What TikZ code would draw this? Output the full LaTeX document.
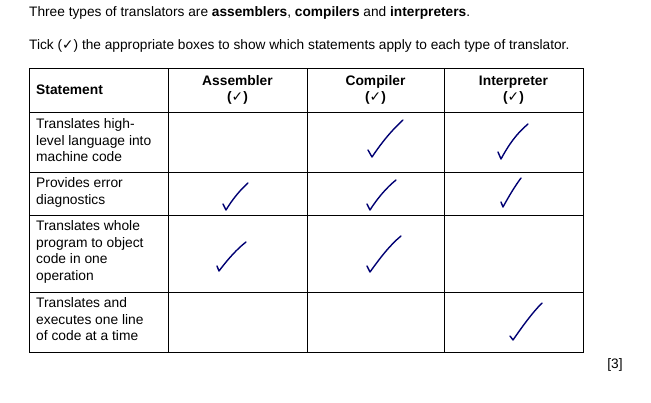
\documentclass[tikz,border=0pt]{standalone}
\usepackage{fontspec}
\setmainfont{Liberation Sans}
\newfontfamily\dv{DejaVu Sans}
\begin{document}
\begin{tikzpicture}[x=1pt,y=-1pt,
  txt/.style={anchor=north west,align=left,inner sep=0pt,font=\fontsize{13.8}{16.8}\selectfont},
  hd/.style={align=center,inner sep=0pt,font=\bfseries\fontsize{13.8}{16}\selectfont},
  tick/.style={draw=blue!45!black,line width=1.4pt,line cap=round,line join=round}]
\useasboundingbox (0,0) rectangle (651,402);
\node[anchor=west,inner sep=0pt,font=\fontsize{13.7}{14}\selectfont] (t1) at (29,13) {Three types of translators are \textbf{assemblers}, \textbf{compilers} and \textbf{interpreters}.};
\node[anchor=west,inner sep=0pt,font=\fontsize{13.7}{14}\selectfont] (t2) at (29,46) {Tick ({\dv\bfseries ✓}) the appropriate boxes to show which statements apply to each type of translator.};
\draw[line width=0.8pt] (29,68) rectangle (583,352);
\foreach \x in {168,307,444} \draw[line width=0.8pt] (\x,68) -- (\x,352);
\foreach \y in {112,172,215,292} \draw[line width=0.8pt] (29,\y) -- (583,\y);
\node[anchor=west,hd] (h0) at (36,90) {Statement};
\node[hd] (h1) at (237.5,90) {Assembler\\({\dv\bfseries ✓})};
\node[hd] (h2) at (375.5,90) {Compiler\\({\dv\bfseries ✓})};
\node[hd] (h3) at (513.5,90) {Interpreter\\({\dv\bfseries ✓})};
\node[txt] (r1) at (36,118) {Translates high-\\level language into\\machine code};
\node[txt] (r2) at (36,177) {Provides error\\diagnostics};
\node[txt] (r3) at (36,220) {Translates whole\\program to object\\code in one\\operation};
\node[txt] (r4) at (36,297) {Translates and\\executes one line\\of code at a time};
\draw[tick] (368,150) -- (372,157) .. controls (382,142) and (392,130) .. (403,120);
\draw[tick] (498,152) -- (501,159) .. controls (508,146) and (516,134) .. (528,124);
\draw[tick] (223,204) -- (226,210) .. controls (232,200) and (240,190) .. (248,183);
\draw[tick] (367,204) -- (370,210) .. controls (377,199) and (386,188) .. (396,180);
\draw[tick] (501,202) -- (503,207) .. controls (509,196) and (515,186) .. (521,178);
\draw[tick] (217,266) -- (219,271) .. controls (228,259) and (237,249) .. (246,242);
\draw[tick] (367,266) -- (370,272) .. controls (380,258) and (390,245) .. (401,236);
\draw[tick] (510,336) -- (513,340) .. controls (522,327) and (532,313) .. (542,303);
\node[inner sep=0pt,font=\fontsize{13.7}{14}\selectfont] (m) at (615,365) {[3]};
\end{tikzpicture}
\end{document}
